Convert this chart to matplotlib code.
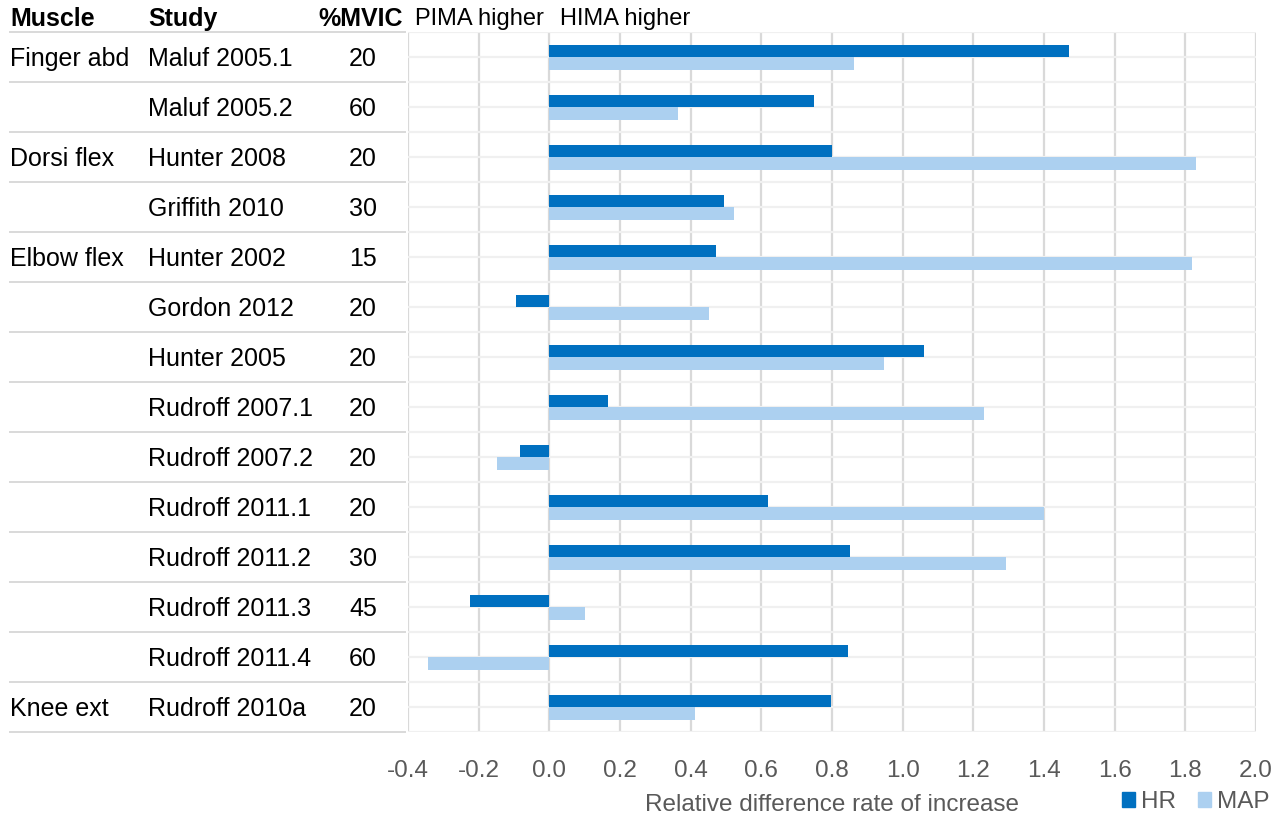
import numpy as np
import matplotlib
matplotlib.use('Agg')
import matplotlib.pyplot as plt
import matplotlib.transforms as mtransforms
from matplotlib.lines import Line2D
from matplotlib.patches import Patch

plt.rcParams['font.family'] = ['Liberation Sans', 'DejaVu Sans']

# data
muscles = ['Finger abd', '', 'Dorsi flex', '', 'Elbow flex', '', '', '', '', '', '', '', '', 'Knee ext']
studies = ['Maluf 2005.1', 'Maluf 2005.2', 'Hunter 2008', 'Griffith 2010', 'Hunter 2002',
           'Gordon 2012', 'Hunter 2005', 'Rudroff 2007.1', 'Rudroff 2007.2', 'Rudroff 2011.1',
           'Rudroff 2011.2', 'Rudroff 2011.3', 'Rudroff 2011.4', 'Rudroff 2010a']
mvic = ['20', '60', '20', '30', '15', '20', '20', '20', '20', '20', '30', '45', '60', '20']
hr = [1.47, 0.75, 0.80, 0.495, 0.472, -0.095, 1.06, 0.166, -0.082, 0.62, 0.85, -0.225, 0.844, 0.796]
map_vals = [0.862, 0.365, 1.83, 0.524, 1.818, 0.451, 0.947, 1.23, -0.147, 1.40, 1.293, 0.10, -0.343, 0.413]
xticks = [-0.4, -0.2, 0.0, 0.2, 0.4, 0.6, 0.8, 1.0, 1.2, 1.4, 1.6, 1.8, 2.0]

HR_COL = '#0070c0'
MAP_COL = '#acd0f0'
GRID_V = '#d9d9d9'
GRID_H = '#f0f0f0'
TXT_GRAY = '#595959'

W, H = 1286, 816
fig = plt.figure(figsize=(W / 100, H / 100), dpi=100)
ax = fig.add_axes([408 / W, 1 - 732 / H, (1256 - 408) / W, (732 - 32) / H])

n = len(studies)
y = np.arange(n)
bh = 0.25
ax.barh(y - bh / 2, hr, height=bh, color=HR_COL, zorder=3)
ax.barh(y + bh / 2, map_vals, height=bh, color=MAP_COL, zorder=3)

ax.set_xlim(xticks[0], xticks[-1])
ax.set_ylim(n - 0.5, -0.5)
ax.set_xticks(xticks)
ax.set_xticklabels([f'{t:.1f}' for t in xticks])
ax.set_yticks(np.arange(-0.5, n, 0.5))
ax.set_yticklabels([])
ax.tick_params(axis='both', length=0)
ax.tick_params(axis='x', labelsize=17.5, labelcolor=TXT_GRAY, pad=20)
ax.grid(axis='x', color=GRID_V, lw=1.6, zorder=1)
ax.grid(axis='y', color=GRID_H, lw=1.6, zorder=0)
for s in ax.spines.values():
    s.set_visible(False)
ax.set_xlabel('Relative difference rate of increase', fontsize=17.5, color=TXT_GRAY, labelpad=9)

# left-hand table
tr = mtransforms.blended_transform_factory(fig.transFigure, ax.transData)
for i in range(n):
    yy = i + 0.04
    fig.text(10 / W, yy, muscles[i], transform=tr, fontsize=18, va='center', ha='left')
    fig.text(148 / W, yy, studies[i], transform=tr, fontsize=18, va='center', ha='left')
    fig.text(363 / W, yy, mvic[i], transform=tr, fontsize=18, va='center', ha='center')
for b in np.arange(-0.5, n, 1.0):
    fig.add_artist(Line2D([10 / W, 405 / W], [b, b], transform=tr, color=GRID_V, lw=1.4))

hy = 1 - 19 / H
fig.text(10 / W, hy, 'Muscle', fontsize=18, fontweight='bold', va='center', ha='left')
fig.text(148 / W, hy, 'Study', fontsize=18, fontweight='bold', va='center', ha='left')
fig.text(403 / W, hy, '%MVIC', fontsize=18, fontweight='bold', va='center', ha='right')
fig.text(544 / W, hy, 'PIMA higher', fontsize=17, va='center', ha='right')
fig.text(560 / W, hy, 'HIMA higher', fontsize=17, va='center', ha='left')

handles = [Patch(color=HR_COL, label='HR'), Patch(color=MAP_COL, label='MAP')]
leg = fig.legend(handles=handles, loc='center right', bbox_to_anchor=(1270 / W, 1 - 802 / H),
                 ncol=2, frameon=False, fontsize=17.5, handlelength=0.55, handleheight=0.55,
                 handletextpad=0.25, columnspacing=0.9, borderpad=0, borderaxespad=0)
for t in leg.get_texts():
    t.set_color(TXT_GRAY)

fig.savefig('out.png', dpi=100)
